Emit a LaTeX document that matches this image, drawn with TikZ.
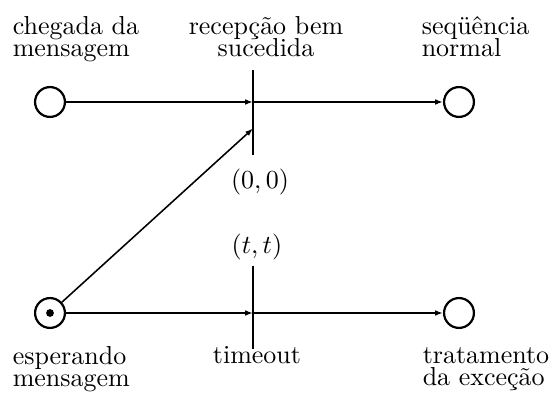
\documentclass[tikz,border=0pt]{standalone}
\usepackage{tikz}
\usetikzlibrary{arrows.meta,calc}
\tikzstyle{place}=[circle,draw=black,line width=0.85pt,minimum size=11.5pt,inner sep=0pt]
\tikzstyle{token}=[circle,fill=black,minimum size=3pt,inner sep=0pt]
\tikzstyle{trans}=[rectangle,draw=black,line width=0.4pt,minimum width=0.3pt,inner sep=0pt]
\tikzstyle{lbl}=[inner sep=0pt,align=left,font={\fontsize{10}{8.3}\selectfont\lineskiplimit=-5pt}]
\tikzstyle{pnet}=[-{Latex[length=3pt,width=2.2pt]}, line width=0.6pt]

\begin{document}
\begin{tikzpicture}[pnet,x=0.385pt,y=-0.385pt]
\useasboundingbox (0,0) rectangle (553,394);
\node[place] (P1) at (50,102) {};
\node[place] (P2) at (50,313) {};
\node[token] (K) at (P2) {};
\node[place] (P3) at (459,102) {};
\node[place] (P4) at (459,313) {};
\node[trans,minimum height=32pt] (T1) at (253,112.5) {};
\node[trans,minimum height=31.2pt] (T2) at (253,307.5) {};
\node[lbl,anchor=north west] (Lcheg) at (12,16) {chegada da\\mensagem};
\node[lbl,align=center,anchor=north] (Lrec) at (266,16) {recepção bem\\sucedida};
\node[lbl,anchor=north west] (Lseq) at (421,16) {seqüência\\normal};
\node[lbl] (Lzero) at (260,182) {$(0,0)$};
\node[lbl] (Ltt) at (257,247) {$(t,t)$};
\node[lbl,anchor=north west] (Lesp) at (12,346) {esperando\\mensagem};
\node[lbl,anchor=base] (Ltime) at (257,364) {timeout};
\node[lbl,anchor=north west] (Ltrat) at (422,347) {tratamento\\da exceção};
\draw(P1)--(P1-|T1);\draw(T1|-P3)--(P3);
\draw(P2)--($(T1.south)!0.31!(T1.north)$);
\draw(P2)--(P2-|T2);\draw(T2|-P4)--(P4);
\end{tikzpicture}
\end{document}
